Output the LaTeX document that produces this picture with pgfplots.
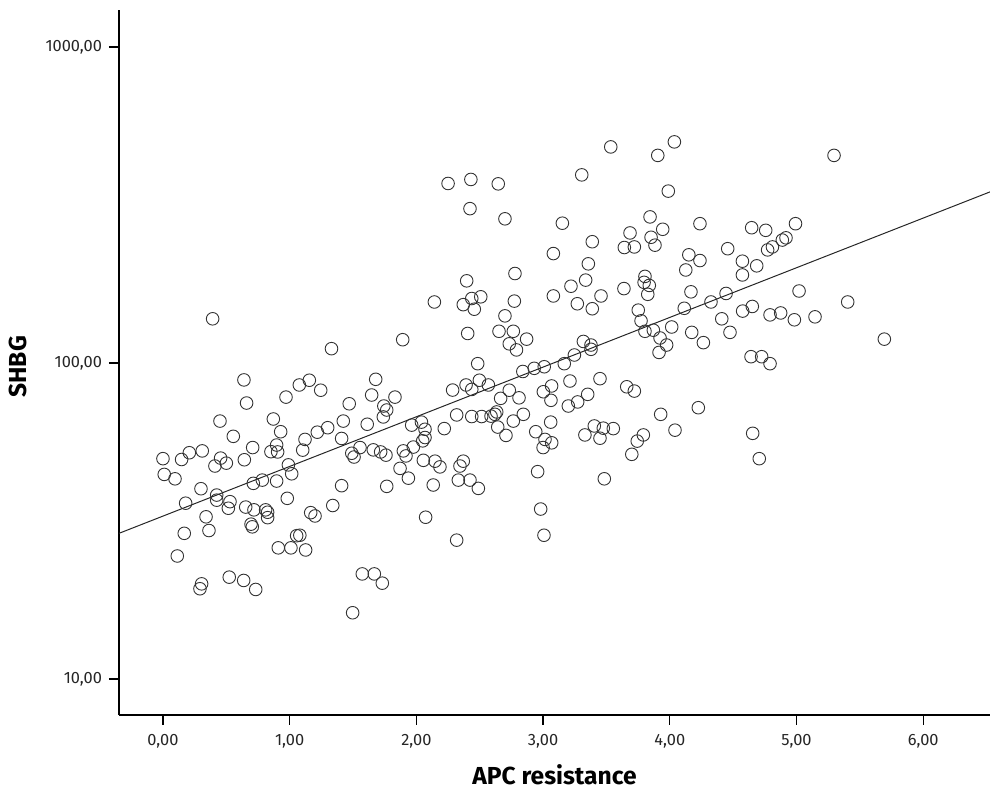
\documentclass[border=0pt]{standalone}
\usepackage{pgfplots}
\pgfplotsset{compat=1.18}
\usepackage{fontspec}
\setmainfont{Fira Sans}

\pgfplotstableread{
x y
0.392 138
1.33 111
0.639 88.4
0.66 74.7
1.076 85.2
1.155 88.2
1.245 82
0.971 78
0.45 65.5
0.871 66.5
0.929 60.6
0.555 58.6
1.121 57.3
1.218 60.4
1.30 62.4
0.708 54
0.897 55
0.852 52.4
0.905 52.3
1.103 53
0.208 52
0.31 52.7
0.0 49.8
0.147 49.5
0.455 50
0.5 48.2
0.642 49.4
0.99 47.6
0.41 47.2
1.016 44.6
0.01 44.4
0.095 43
0.3 40
0.424 38.2
0.424 36.8
0.529 36.4
0.516 34.7
0.179 36
0.713 41.6
0.784 42.6
0.897 42.3
0.981 37.3
0.653 35
0.718 34.3
0.81 34.3
0.826 33.7
0.826 32.4
0.695 30.9
0.705 30.3
0.34 32.6
0.363 29.5
0.168 28.9
0.113 24.5
0.91 26
1.01 26
1.126 25.6
1.055 28.4
1.08 28.5
1.166 33.6
1.2 32.8
1.34 35.4
0.305 20
0.292 19.3
0.523 21
0.637 20.5
0.732 19.2
2.142 156
2.37 153
2.437 160
2.508 162
2.457 148
2.773 157
2.699 141
2.405 124
2.652 126
2.765 126
2.733 115
2.79 110
1.892 118.5
2.484 99.5
2.84 94
1.679 88.8
2.392 85.2
2.497 88.2
2.568 85.2
2.437 82.5
2.286 82.1
2.733 82
2.665 77.3
2.81 77.6
1.647 79.2
1.831 78
1.47 74.3
1.743 73.1
1.766 71
1.739 67.5
1.423 65.5
1.612 64
2.318 68.5
2.437 67.7
2.515 67.7
2.589 67.9
2.634 70
2.62 68.8
2.765 65.5
2.642 62.7
2.707 59
2.22 62
1.963 63.6
2.04 65
2.068 61.7
2.068 58.1
2.05 56.7
1.976 54.2
1.41 57.7
1.555 54
1.66 53.1
1.718 52.3
1.76 51.1
1.49 51.8
1.508 50.4
1.897 52.7
1.918 50.8
1.871 46.4
1.937 43.2
2.055 49.2
2.147 48.9
2.186 46.9
2.37 48.9
2.344 47.2
2.331 42.6
2.423 42.6
2.489 40.1
2.133 41.1
1.766 40.7
1.41 40.9
2.073 32.5
2.318 27.5
1.573 21.5
1.668 21.5
1.731 20.1
1.497 16.2
2.25 370
2.43 381
2.646 369
2.423 308
2.699 286
2.397 182
2.778 192
3.081 163
3.27 154
3.388 148.5
3.457 163
3.751 147
3.773 136
3.804 126
3.87 127
3.923 120
3.975 114
3.915 108
4.015 130
4.114 149
4.173 125
4.265 116
3.826 165
4.167 168
2.87 119
3.318 117
3.378 114
3.378 110.5
3.247 106
3.167 99.5
3.009 97.3
2.93 96.2
3.067 84.6
3.002 81.1
3.062 76.2
3.212 87.7
3.449 89.2
3.66 84.1
3.72 81.5
3.352 79.6
3.273 75.3
3.199 73.1
4.225 72.2
3.928 68.8
2.844 68.8
3.06 65
2.942 60.6
3.015 57.3
3.068 55.9
3.0 54
3.404 63.2
3.475 62.2
3.554 62
3.33 59.2
3.449 57.8
3.791 59.2
3.743 56.6
4.041 61.3
3.7 51.4
2.957 45.3
3.483 43
2.981 34.5
3.007 28.5
3.534 483
4.036 501
3.905 454
3.305 394
3.988 350
3.844 290
4.238 276
3.152 277
3.944 265
3.686 258
3.852 250
3.641 232
3.72 233
3.883 236
3.388 242
3.081 222
3.357 206
3.336 183
3.22 175
3.638 172
3.804 188
3.797 180
3.838 176
4.15 220
4.238 211
4.126 197
5.296 454
4.646 268
4.757 263
4.992 276
4.917 249
4.888 245
4.81 233
4.772 228
4.457 230
4.573 210
4.686 203
4.573 190
4.444 166
5.02 169
5.404 156
5.693 119
4.325 156
4.41 138
4.575 146
4.651 151
4.791 142
4.875 144
4.983 137
5.146 140
4.475 125
4.641 104.7
4.725 104.7
4.791 99.5
4.654 59.9
4.706 49.8
}\shbg

\begin{document}
\begin{tikzpicture}
\begin{axis}[name=ax,scale only axis,width=435.5pt,height=352.5pt,
xmin=-0.347,xmax=6.527,ymode=log,ymin=7.69,ymax=1310,
axis lines*=left,axis line style={black,line width=0.7pt},
tick align=outside,major tick length=5pt,tick style={black,line width=0.6pt},
xtick={0,1,2,3,4,5,6},xticklabels={{0,00},{1,00},{2,00},{3,00},{4,00},{5,00},{6,00}},
ytick={10,100,1000},yticklabels={{10,00},{100,00},{1000,00}},
yminorticks=false,minor y tick num=0,
tick label style={font=\fontsize{8.2}{10}\selectfont,text=black!85},
xticklabel style={yshift=-1pt},
xlabel={APC resistance},ylabel={SHBG},
label style={font=\fontsize{12.3}{14}\selectfont\bfseries},
xlabel style={at={(axis description cs:0.5,0)},anchor=center,yshift=-30pt},
ylabel style={at={(axis description cs:0,0.494)},anchor=center,yshift=50.5pt},
clip=false]
\addplot[only marks,mark=o,mark size=3.15pt,mark options={draw=black!80,line width=0.45pt}] table[x=x,y=y] {\shbg};
\addplot[black!85,line width=0.5pt] coordinates {(-0.347,28.9) (6.527,348)};
\end{axis}
\pgfresetboundingbox
\path[use as bounding box] ([xshift=-59.5pt,yshift=-38pt]ax.south west) rectangle ([yshift=5pt]ax.north east);
\end{tikzpicture}
\end{document}
